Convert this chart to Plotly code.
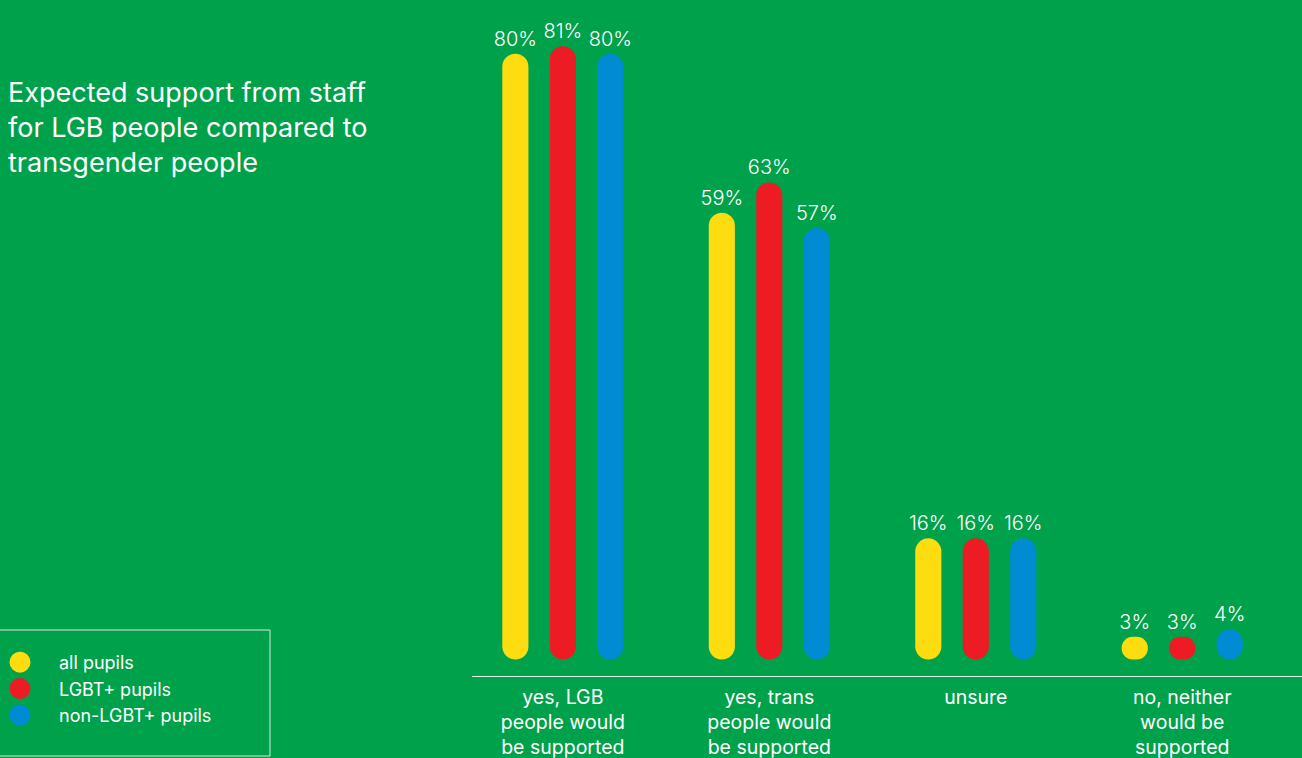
import plotly.graph_objects as go

categories = [
    "yes, LGB<br>people would<br>be supported",
    "yes, trans<br>people would<br>be supported",
    "unsure",
    "no, neither<br>would be<br>supported",
]
series_names = ["all pupils", "LGBT+ pupils", "non-LGBT+ pupils"]
all_pupils = [80, 59, 16, 3]
lgbt_pupils = [81, 63, 16, 3]
non_lgbt_pupils = [80, 57, 16, 4]
series_values = [all_pupils, lgbt_pupils, non_lgbt_pupils]
colors = ["#FEDD10", "#ED1C24", "#008BD2"]

BG = "#00A14B"
FONT = "Inter"
LIGHT = "Inter Light, Lato Light, Inter"
W, H = 1302, 758
ML, MB = 472, 82
PW, PH = W - ML, H - MB

fig = go.Figure()
for name, vals, col in zip(series_names, series_values, colors):
    fig.add_trace(go.Bar(
        x=categories, y=vals, base=[0] * len(vals), offsetgroup=name,
        marker=dict(color=col, cornerradius="50%", line_width=0),
        text=[f"{v}%" for v in vals], textposition="outside",
        constraintext="none", cliponaxis=False,
        textfont=dict(family=LIGHT, size=20, color="white", weight=300),
        showlegend=False, hoverinfo="skip",
    ))
    # legend entry
    fig.add_trace(go.Scatter(
        x=[None], y=[None], mode="markers", name=name,
        marker=dict(size=16, color=col, symbol="circle",
                    line=dict(color=col, width=5)),
    ))

fig.update_layout(
    width=W, height=H,
    paper_bgcolor=BG, plot_bgcolor=BG,
    margin=dict(l=ML, r=0, t=0, b=MB, pad=0, autoexpand=False),
    barmode="group", bargap=0.31, bargroupgap=0.45,
    font=dict(family=FONT, color="white"),
    title=dict(
        text="Expected support from staff<br>for LGB people compared to<br>transgender people",
        x=8 / W, xref="container", xanchor="left",
        y=1 - 102 / H, yref="container", yanchor="top",
        font=dict(family=FONT, size=27, color="white"),
    ),
    xaxis=dict(
        range=[-0.44, 3.58], showgrid=False, zeroline=False,
        showline=True, linecolor="#E3F2E6", linewidth=1.2,
        ticks="", ticklabelstandoff=3,
        tickfont=dict(family=FONT, size=19.5, color="white"),
    ),
    yaxis=dict(range=[-2.18, 87.1], visible=False, fixedrange=True),
    legend=dict(
        xref="paper", yref="paper",
        x=(-19 - ML) / PW, y=(PH - 644) / PH,
        xanchor="left", yanchor="top",
        bgcolor="rgba(0,0,0,0)", borderwidth=0,
        itemwidth=68, tracegroupgap=0,
        font=dict(family=FONT, size=18, color="white"),
    ),
    shapes=[dict(
        type="rect", xref="paper", yref="paper",
        x0=(-3 - ML) / PW, x1=(270 - ML) / PW,
        y0=(PH - 756) / PH, y1=(PH - 630) / PH,
        line=dict(color="#D5ECDA", width=1), fillcolor="rgba(0,0,0,0)",
        layer="above",
    )],
    showlegend=True,
)

fig.write_html(
    "out.html",
    config={"displayModeBar": False},
    post_script="document.body.style.margin='0';document.body.style.background='" + BG + "';",
)
